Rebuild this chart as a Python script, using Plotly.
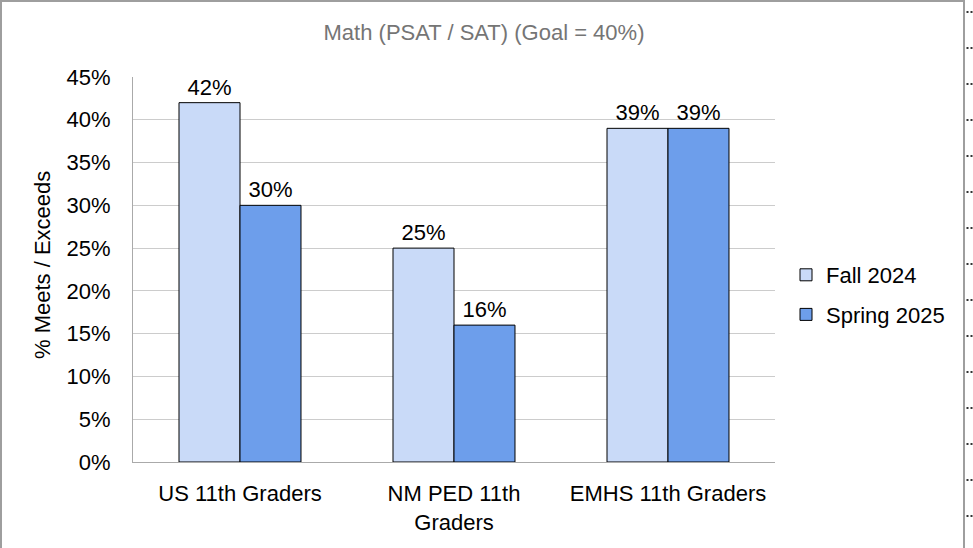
import plotly.graph_objects as go

categories = ["US 11th Graders", "NM PED 11th<br>Graders", "EMHS 11th Graders"]
fall_2024 = [0.42, 0.25, 0.39]
spring_2025 = [0.30, 0.16, 0.39]
series_names = ["Fall 2024", "Spring 2025"]
y_ticks = [0, 0.05, 0.10, 0.15, 0.20, 0.25, 0.30, 0.35, 0.40, 0.45]

FONT = "Liberation Sans, Arial, sans-serif"
FS = 22
W, H = 973, 548
L, R, T, B = 133, 198, 77, 86

fig = go.Figure()
for name, vals, col in [(series_names[0], fall_2024, "#C9DAF8"),
                        (series_names[1], spring_2025, "#6D9EEB")]:
    fig.add_trace(go.Bar(
        x=categories, y=vals, name=name, legendgroup=name,
        marker=dict(color=col, line=dict(color="#000000", width=1)),
        texttemplate="%{y:.0%}", textposition="outside",
        textfont=dict(family=FONT, size=FS, color="#000000"),
        cliponaxis=False,
    ))

pw, ph = W - L - R, H - T - B
def px_x(x):
    return (x - L) / pw
def px_y(y):
    return 1 - (y - T) / ph

fig.update_layout(
    width=W, height=H,
    margin=dict(l=L, r=R, t=T, b=B),
    paper_bgcolor="white", plot_bgcolor="white",
    barmode="group", bargap=0.43, bargroupgap=0,
    font=dict(family=FONT, size=FS, color="#000000"),
    title=dict(text="Math (PSAT / SAT) (Goal = 40%)", xref="container", x=484 / W,
               xanchor="center", y=1 - 32 / H, yanchor="middle",
               font=dict(family=FONT, size=FS, color="#757575")),
    legend=dict(x=px_x(786), xanchor="left", y=px_y(295), yanchor="middle",
                font=dict(family=FONT, size=FS, color="#000000"),
                tracegroupgap=8, itemwidth=30, bgcolor="rgba(0,0,0,0)"),
    showlegend=True,
)
fig.update_xaxes(showline=True, linecolor="#AAAAAA", linewidth=1, ticks="",
                 showgrid=False, tickfont=dict(family=FONT, size=FS, color="#000000"),
                 ticklabelstandoff=12)
fig.update_yaxes(range=[0, 0.45], tickvals=y_ticks, tickformat=".0%",
                 showgrid=True, gridcolor="#CCCCCC", gridwidth=1,
                 showline=True, linecolor="#AAAAAA", linewidth=1,
                 zeroline=False, ticks="",
                 tickfont=dict(family=FONT, size=FS, color="#000000"),
                 ticklabelstandoff=17)

fig.add_annotation(text="% Meets / Exceeds", xref="paper", yref="paper",
                   x=px_x(42), y=px_y(265), textangle=-90,
                   showarrow=False, xanchor="center", yanchor="middle",
                   font=dict(family=FONT, size=FS, color="#000000"))

# outer border of the chart box (cropped at bottom)
fig.add_shape(type="line", xref="paper", yref="paper", x0=px_x(1), x1=px_x(1),
              y0=px_y(0), y1=px_y(H), line=dict(color="#9E9E9E", width=2))
fig.add_shape(type="line", xref="paper", yref="paper", x0=px_x(0), x1=px_x(965),
              y0=px_y(1), y1=px_y(1), line=dict(color="#9E9E9E", width=2))
fig.add_shape(type="line", xref="paper", yref="paper", x0=px_x(964), x1=px_x(964),
              y0=px_y(0), y1=px_y(H), line=dict(color="#9E9E9E", width=2))
for xd in (967.5, 971.5):
    fig.add_shape(type="line", xref="paper", yref="paper", x0=px_x(xd), x1=px_x(xd),
                  y0=px_y(11), y1=px_y(H), line=dict(color="#333333", width=2, dash="2px,34px"))

fig.write_html("out.html", config={"displayModeBar": False},
               post_script="document.body.style.margin='0px';")
